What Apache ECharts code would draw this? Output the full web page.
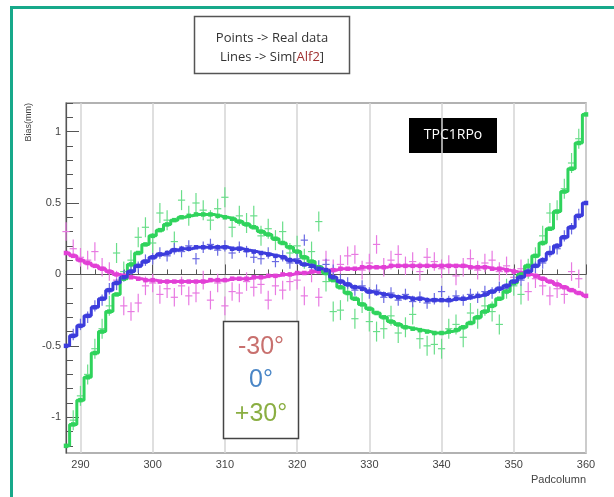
<!DOCTYPE html>
<html><head><meta charset="utf-8">
<script src="https://cdn.jsdelivr.net/npm/echarts@6/dist/echarts.min.js"></script>
<style>html,body{margin:0;padding:0;background:#fff;} #c{width:614px;height:497px;}</style>
</head><body><div id="c"></div>
<script>
// Pad columns (x categories)
const padCols = [288,289,290,291,292,293,294,295,296,297,298,299,300,301,302,303,304,305,306,307,308,309,310,311,312,313,314,315,316,317,318,319,320,321,322,323,324,325,326,327,328,329,330,331,332,333,334,335,336,337,338,339,340,341,342,343,344,345,346,347,348,349,350,351,352,353,354,355,356,357,358,359,360];

// Simulation lines (Sim[Alf2])
const simM30 = [0.15,0.13,0.10,0.08,0.06,0.04,0.02,0.00,-0.01,-0.02,-0.03,-0.04,-0.04,-0.05,-0.05,-0.05,-0.05,-0.05,-0.05,-0.05,-0.04,-0.04,-0.04,-0.03,-0.03,-0.03,-0.02,-0.02,-0.01,-0.01,0.00,0.00,0.01,0.01,0.02,0.02,0.03,0.03,0.04,0.04,0.04,0.05,0.05,0.05,0.05,0.06,0.06,0.06,0.06,0.06,0.06,0.06,0.06,0.06,0.06,0.06,0.05,0.05,0.05,0.04,0.04,0.03,0.02,0.01,0.00,-0.01,-0.03,-0.05,-0.07,-0.09,-0.11,-0.13,-0.15];
const sim0 = [-0.50,-0.43,-0.36,-0.29,-0.23,-0.17,-0.11,-0.06,-0.02,0.02,0.06,0.09,0.12,0.14,0.15,0.17,0.18,0.18,0.19,0.19,0.19,0.19,0.19,0.18,0.18,0.17,0.16,0.15,0.14,0.13,0.12,0.10,0.09,0.07,0.06,0.04,0.03,-0.02,-0.05,-0.07,-0.09,-0.10,-0.12,-0.13,-0.14,-0.15,-0.16,-0.16,-0.17,-0.17,-0.18,-0.18,-0.18,-0.18,-0.17,-0.17,-0.16,-0.15,-0.14,-0.12,-0.10,-0.08,-0.05,-0.02,0.02,0.06,0.10,0.15,0.20,0.26,0.33,0.41,0.50];
const simP30 = [-1.20,-1.05,-0.88,-0.72,-0.55,-0.40,-0.26,-0.14,-0.03,0.07,0.15,0.21,0.27,0.31,0.35,0.38,0.40,0.41,0.42,0.42,0.42,0.41,0.40,0.39,0.37,0.35,0.33,0.30,0.28,0.25,0.22,0.19,0.16,0.12,0.09,0.05,0.01,-0.04,-0.09,-0.13,-0.17,-0.21,-0.24,-0.27,-0.30,-0.33,-0.35,-0.37,-0.38,-0.39,-0.40,-0.41,-0.41,-0.40,-0.39,-0.37,-0.34,-0.30,-0.26,-0.22,-0.17,-0.12,-0.06,0.00,0.06,0.13,0.22,0.32,0.44,0.58,0.74,0.92,1.12];

// Real data points
const dataM30 = [0.30,0.18,0.12,0.10,0.16,0.05,0.02,-0.04,-0.22,-0.26,-0.20,-0.08,-0.06,-0.14,-0.10,-0.16,-0.08,-0.15,-0.13,-0.04,-0.18,-0.06,-0.22,-0.12,-0.13,-0.05,-0.09,-0.07,-0.18,-0.08,-0.11,-0.05,-0.04,-0.15,0.01,-0.16,0.10,0.04,0.07,0.13,0.14,0.03,0.08,0.21,0.05,0.10,0.14,0.06,0.09,0.02,0.12,0.09,0.04,0.07,-0.01,0.05,0.11,0.03,0.08,0.10,0.02,0.06,-0.02,0.04,-0.12,-0.03,-0.08,-0.15,-0.10,-0.14,0.02,-0.03,null];
const data0 = [null,-0.42,-0.35,-0.30,-0.22,-0.18,-0.10,-0.07,-0.01,0.03,0.05,0.10,0.11,0.15,0.13,0.18,0.16,0.20,0.11,0.19,0.21,0.17,0.20,0.15,0.19,0.16,0.12,0.11,0.15,0.09,0.13,0.08,0.11,0.24,0.05,0.06,0.07,0.03,-0.04,-0.06,-0.11,-0.08,-0.13,-0.11,-0.16,-0.13,-0.18,-0.14,-0.19,-0.16,-0.20,-0.17,-0.12,-0.19,-0.15,-0.18,-0.14,-0.16,-0.12,-0.13,-0.09,-0.10,-0.04,-0.04,0.03,0.05,0.08,0.16,0.18,0.27,0.32,0.42,null];
const dataP30 = [null,-1.02,-0.85,-0.70,-0.52,-0.38,-0.22,0.15,0.02,0.10,0.26,0.33,0.22,0.43,0.38,0.23,0.52,0.41,0.50,0.45,0.38,0.46,0.54,0.33,0.41,0.36,0.41,0.27,0.32,0.24,0.30,0.15,0.20,0.11,0.16,0.37,-0.05,-0.26,-0.25,-0.12,-0.31,-0.20,-0.33,-0.40,-0.38,-0.29,-0.41,-0.37,-0.28,-0.45,-0.50,-0.49,-0.52,-0.38,-0.35,-0.44,-0.27,-0.31,-0.22,-0.26,-0.35,-0.10,-0.08,-0.14,0.04,0.12,0.27,0.43,0.45,0.60,0.78,0.95,null];
const errM30 = 0.065, err0 = 0.04, errP30 = 0.07;

// Tick values
const xMajor = [290,300,310,320,330,340,350,360];
const xMinor = [288,292,294,296,298,302,304,306,308,312,314,316,318,322,324,326,328,332,334,336,338,342,344,346,348,352,354,356,358];
const yMajor = [-1,-0.5,0,0.5,1];
const yMinor = [-1.2,-1.1,-0.9,-0.8,-0.7,-0.6,-0.4,-0.3,-0.2,-0.1,0.1,0.2,0.3,0.4,0.6,0.7,0.8,0.9,1.1,1.2];

const colM = '#e23fd6', colB = '#3c3cdc', colG = '#2fd35c';
const dcolM = '#e87ae2', dcolB = '#6a6ae2', dcolG = '#6ade8a';

function pairs(vals){ const out=[]; padCols.forEach((c,i)=>{ if(vals[i]!==null) out.push([c, vals[i]]); }); return out; }
function errRender(color, err){
  return function(params, api){
    const x = api.value(0), y = api.value(1);
    const c = api.coord([x,y]);
    const t = api.coord([x,y+err]), b = api.coord([x,y-err]);
    const l = api.coord([x-0.5,y]), r = api.coord([x+0.5,y]);
    return {type:'group', children:[
      {type:'line', shape:{x1:c[0],y1:t[1],x2:c[0],y2:b[1]}, style:{stroke:color,lineWidth:1.2}},
      {type:'line', shape:{x1:l[0],y1:c[1],x2:r[0],y2:c[1]}, style:{stroke:color,lineWidth:1.2}}
    ]};
  };
}
function errSeries(vals, color, err){
  return {type:'custom', data:pairs(vals), renderItem:errRender(color,err), encode:{x:0,y:1}, z:2, animation:false, silent:true};
}
function simSeries(vals, color){
  return {type:'line', step:'middle', data:pairs(vals), symbol:'rect', symbolSize:4.5, showSymbol:true,
    lineStyle:{width:3,color:color}, itemStyle:{color:color}, z:5, animation:false, silent:true};
}

const chart = echarts.init(document.getElementById('c'), null, {renderer:'canvas'});
const axisCol = '#555';
chart.setOption({
  backgroundColor:'#fff',
  animation:false,
  grid:{left:66,right:28,top:103,bottom:44,show:true,borderColor:'#999',borderWidth:1.5,backgroundColor:'transparent'},
  xAxis:[
    {type:'value',min:288,max:360,position:'bottom',
     axisLine:{show:true,lineStyle:{color:axisCol,width:1.2}},
     axisTick:{show:true,inside:true,length:10,customValues:xMajor,lineStyle:{color:axisCol}},
     axisLabel:{customValues:xMajor,color:'#444',fontSize:11,margin:6,fontFamily:'Liberation Sans'},
     splitLine:{show:true,lineStyle:{color:'#d4d4d4',width:1.5}}},
    {type:'value',min:288,max:360,position:'bottom',
     axisLine:{show:false},
     axisTick:{show:true,inside:true,length:5,customValues:xMinor,lineStyle:{color:axisCol}},
     axisLabel:{show:false},splitLine:{show:false}}
  ],
  yAxis:[
    {type:'value',min:-1.25,max:1.2,position:'left',
     axisLine:{show:true,lineStyle:{color:axisCol,width:1.2}},
     axisTick:{show:true,inside:true,length:13,customValues:yMajor,lineStyle:{color:axisCol}},
     axisLabel:{customValues:yMajor,color:'#444',fontSize:11,margin:5,fontFamily:'Liberation Sans'},
     splitLine:{show:false}},
    {type:'value',min:-1.25,max:1.2,position:'left',
     axisLine:{show:false},
     axisTick:{show:true,inside:true,length:7,customValues:yMinor,lineStyle:{color:axisCol}},
     axisLabel:{show:false},splitLine:{show:false}}
  ],
  series:[
    errSeries(dataM30,dcolM,errM30),
    errSeries(dataP30,dcolG,errP30),
    errSeries(data0,dcolB,err0),
    simSeries(simM30,colM),
    simSeries(simP30,colG),
    simSeries(sim0,colB)
  ],
  graphic:[
    {type:'rect',shape:{x:11.5,y:7.5,width:640,height:540},style:{fill:'none',stroke:'#17a98a',lineWidth:3},silent:true},
    {type:'rect',shape:{x:194.5,y:16.5,width:155,height:57},style:{fill:'#fff',stroke:'#555',lineWidth:1.5}},
    {type:'text',x:272,y:38,style:{text:'Points -> Real data',font:'13px "Open Sans"',fill:'#333',textAlign:'center',textVerticalAlign:'middle'}},
    {type:'text',x:272,y:57,style:{text:'Lines -> Sim[{r|Alf2}]',font:'13px "Open Sans"',fill:'#333',textAlign:'center',textVerticalAlign:'middle',
      rich:{r:{fill:'#a03030',font:'13px "Open Sans"'}}}},
    {type:'rect',shape:{x:409,y:118,width:88,height:35},style:{fill:'#000'}},
    {type:'text',x:453,y:135.5,style:{text:'TPC1RPo',font:'14px "Open Sans"',fill:'#fff',textAlign:'center',textVerticalAlign:'middle'}},
    {type:'rect',shape:{x:223.5,y:321.5,width:75,height:117},style:{fill:'#fff',stroke:'#444',lineWidth:1.5},z:10},
    {type:'text',x:261,y:347,z:11,style:{text:'-30°',font:'25px "Liberation Sans"',fill:'#c8706e',textAlign:'center',textVerticalAlign:'middle'}},
    {type:'text',x:261,y:380,z:11,style:{text:'0°',font:'25px "Liberation Sans"',fill:'#4a86c6',textAlign:'center',textVerticalAlign:'middle'}},
    {type:'text',x:261,y:414,z:11,style:{text:'+30°',font:'25px "Liberation Sans"',fill:'#8aae42',textAlign:'center',textVerticalAlign:'middle'}},
    {type:'text',x:29,y:103,rotation:Math.PI/2,style:{text:'Bias(mm)',font:'9px "Liberation Sans"',fill:'#444',textAlign:'right',textVerticalAlign:'middle'}},
    {type:'text',x:586,y:480,style:{text:'Padcolumn',font:'11px "Liberation Sans"',fill:'#444',textAlign:'right',textVerticalAlign:'middle'}}
  ]
});
</script></body></html>
